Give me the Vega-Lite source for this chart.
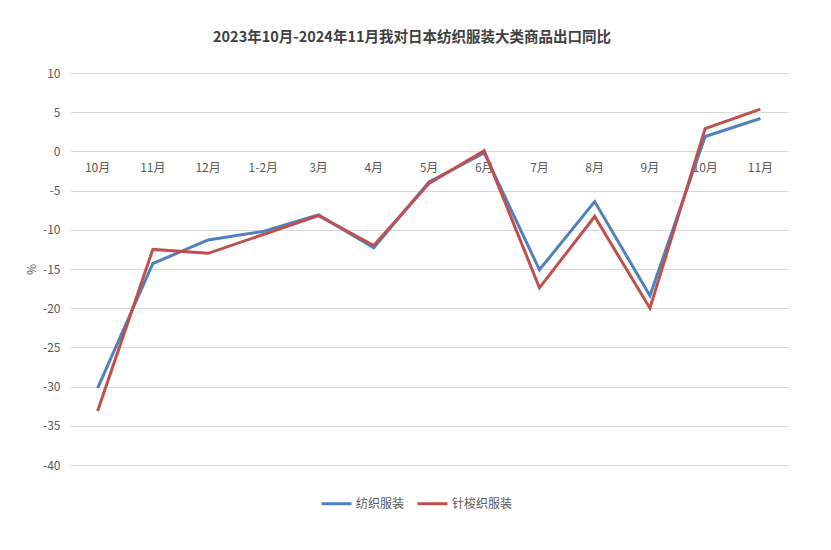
{
  "$schema": "https://vega.github.io/schema/vega-lite/v6.json",
  "autosize": "none",
  "width": 718,
  "height": 392,
  "padding": {"left": 70, "top": 73, "right": 43, "bottom": 85},
  "background": "white",
  "title": {
    "text": "2023年10月-2024年11月我对日本纺织服装大类商品出口同比",
    "font": "Noto Sans CJK SC",
    "fontSize": 14.5,
    "fontWeight": "bold",
    "color": "#404040",
    "anchor": "middle",
    "dx": -17,
    "offset": 22
  },
  "config": {
    "view": {"stroke": null},
    "font": "Noto Sans CJK SC"
  },
  "data": {
    "values": [
      {"month": "2023年10月", "series": "纺织服装", "value": -30.2},
      {"month": "2023年11月", "series": "纺织服装", "value": -14.3},
      {"month": "2023年12月", "series": "纺织服装", "value": -11.3},
      {"month": "2024年1-2月", "series": "纺织服装", "value": -10.2},
      {"month": "2024年3月", "series": "纺织服装", "value": -8.1},
      {"month": "2024年4月", "series": "纺织服装", "value": -12.3},
      {"month": "2024年5月", "series": "纺织服装", "value": -3.9},
      {"month": "2024年6月", "series": "纺织服装", "value": -0.2},
      {"month": "2024年7月", "series": "纺织服装", "value": -15.1},
      {"month": "2024年8月", "series": "纺织服装", "value": -6.4},
      {"month": "2024年9月", "series": "纺织服装", "value": -18.4},
      {"month": "2024年10月", "series": "纺织服装", "value": 1.9},
      {"month": "2024年11月", "series": "纺织服装", "value": 4.2},
      {"month": "2023年10月", "series": "针梭织服装", "value": -33.1},
      {"month": "2023年11月", "series": "针梭织服装", "value": -12.5},
      {"month": "2023年12月", "series": "针梭织服装", "value": -13.0},
      {"month": "2024年1-2月", "series": "针梭织服装", "value": -10.6},
      {"month": "2024年3月", "series": "针梭织服装", "value": -8.2},
      {"month": "2024年4月", "series": "针梭织服装", "value": -12.0},
      {"month": "2024年5月", "series": "针梭织服装", "value": -4.1},
      {"month": "2024年6月", "series": "针梭织服装", "value": 0.1},
      {"month": "2024年7月", "series": "针梭织服装", "value": -17.4},
      {"month": "2024年8月", "series": "针梭织服装", "value": -8.3},
      {"month": "2024年9月", "series": "针梭织服装", "value": -20.0},
      {"month": "2024年10月", "series": "针梭织服装", "value": 2.9},
      {"month": "2024年11月", "series": "针梭织服装", "value": 5.4}
    ]
  },
  "mark": {"type": "line", "strokeWidth": 3, "strokeJoin": "miter"},
  "encoding": {
    "x": {
      "field": "month",
      "type": "ordinal",
      "sort": null,
      "scale": {"type": "band", "paddingInner": 0, "paddingOuter": 0},
      "axis": {
        "title": null,
        "labelAngle": 0,
        "labelExpr": "slice(datum.label, 5)",
        "domain": false,
        "ticks": false,
        "offset": -313,
        "labelPadding": 10,
        "labelFontSize": 12,
        "labelColor": "#595959",
        "grid": false
      }
    },
    "y": {
      "field": "value",
      "type": "quantitative",
      "scale": {"domain": [-40, 10], "nice": false},
      "axis": {
        "title": "%",
        "titleFontSize": 12,
        "titleFontWeight": "normal",
        "titleColor": "#595959",
        "titlePadding": 4,
        "values": [-40, -35, -30, -25, -20, -15, -10, -5, 0, 5, 10],
        "labelExpr": "replace(datum.label, '−', '-')",
        "domain": false,
        "ticks": false,
        "labelPadding": 10,
        "labelFontSize": 12,
        "labelColor": "#595959",
        "gridColor": "#d9d9d9",
        "gridWidth": 1
      }
    },
    "color": {
      "field": "series",
      "type": "nominal",
      "scale": {"domain": ["纺织服装", "针梭织服装"], "range": ["#4f81bd", "#c0504d"]},
      "legend": {
        "title": null,
        "orient": "none",
        "direction": "horizontal",
        "legendX": 250,
        "legendY": 414,
        "symbolType": "stroke",
        "symbolStrokeWidth": 3,
        "symbolSize": 900,
        "labelOffset": 3,
        "labelFontSize": 12,
        "labelColor": "#595959",
        "columnPadding": 6
      }
    }
  }
}
